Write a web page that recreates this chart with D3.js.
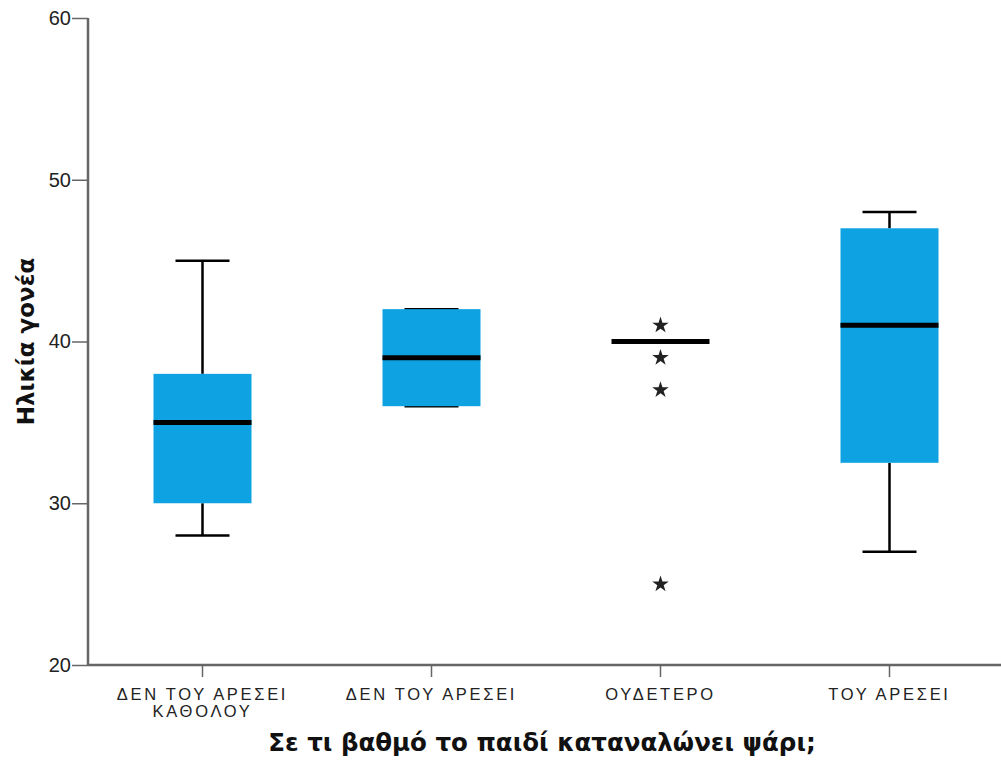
<!DOCTYPE html>
<html><head><meta charset="utf-8">
<script src="https://cdn.jsdelivr.net/npm/d3@7"></script>
<style>body{margin:0;background:#fff}svg{display:block}</style>
</head><body>
<script>
const categories = [["ΔΕΝ ΤΟΥ ΑΡΕΣΕΙ","ΚΑΘΟΛΟΥ"],["ΔΕΝ ΤΟΥ ΑΡΕΣΕΙ"],["ΟΥΔΕΤΕΡΟ"],["ΤΟΥ ΑΡΕΣΕΙ"]];
const whiskerLow  = [28, 36, 40, 27];
const q1          = [30, 36, 40, 32.5];
const median      = [35, 39, 40, 41];
const q3          = [38, 42, 40, 47];
const whiskerHigh = [45, 42, 40, 48];
const outliers    = [[], [], [41, 39, 37, 25], []];
const yTicks = [20, 30, 40, 50, 60];

(function(){
const W = 1001, H = 760;
const svg = d3.select("body").append("svg").attr("width", W).attr("height", H);
const mLeft = 88, mRight = 1004, mTop = 18, mBottom = 665;

const x = d3.scaleBand().domain(d3.range(categories.length)).range([mLeft, mRight]).padding(0);
const y = d3.scaleLinear().domain([20, 60]).range([mBottom, mTop]);
const bw = 98, capW = 54;
const cx = i => x(i) + x.bandwidth() / 2;

// axes
const yAxis = svg.append("g").attr("transform", `translate(${mLeft},0)`)
  .call(d3.axisLeft(y).tickValues(yTicks).tickSize(16).tickPadding(1).tickFormat(d3.format("d")));
yAxis.select(".domain").attr("stroke", "#666").attr("stroke-width", 2.5).attr("d", `M0,${mTop}V${mBottom}`);
yAxis.selectAll(".tick line").attr("stroke", "#666").attr("stroke-width", 1.5);
yAxis.selectAll(".tick text").attr("font-family", "Arial, Liberation Sans, sans-serif").attr("font-size", 20).attr("fill", "#222");

const xAxis = svg.append("g").attr("transform", `translate(0,${mBottom})`)
  .call(d3.axisBottom(x).tickSize(12).tickFormat(""));
xAxis.select(".domain").attr("stroke", "#666").attr("stroke-width", 2.5).attr("d", `M${mLeft},0H${W}`);
xAxis.selectAll(".tick line").attr("stroke", "#666").attr("stroke-width", 1.5);
xAxis.selectAll(".tick").each(function(d) {
  const t = d3.select(this).append("text").attr("fill", "#222")
    .attr("font-family", "Arial, Liberation Sans, sans-serif").attr("font-size", 16.5)
    .attr("letter-spacing", "2.7px").attr("text-anchor", "middle");
  categories[d].forEach((line, k) => {
    t.append("tspan").attr("x", 0).attr("y", 35 + k * 17).text(line);
  });
});

// boxes
const g = svg.append("g");
categories.forEach((c, i) => {
  const X = cx(i);
  if (whiskerHigh[i] > q3[i]) {
    g.append("line").attr("x1", X).attr("x2", X).attr("y1", y(q3[i])).attr("y2", y(whiskerHigh[i])).attr("stroke", "#000").attr("stroke-width", 2.5);
  }
  if (whiskerLow[i] < q1[i]) {
    g.append("line").attr("x1", X).attr("x2", X).attr("y1", y(q1[i])).attr("y2", y(whiskerLow[i])).attr("stroke", "#000").attr("stroke-width", 2.5);
  }
  if (whiskerHigh[i] !== whiskerLow[i]) {
    [whiskerLow[i], whiskerHigh[i]].forEach(v => {
      g.append("line").attr("x1", X - capW / 2).attr("x2", X + capW / 2).attr("y1", y(v)).attr("y2", y(v)).attr("stroke", "#000").attr("stroke-width", 2.5);
    });
  }
  if (q3[i] > q1[i]) {
    g.append("rect").attr("x", X - bw / 2).attr("width", bw).attr("y", y(q3[i])).attr("height", y(q1[i]) - y(q3[i])).attr("fill", "#0fa2e2");
  }
  g.append("line").attr("x1", X - bw / 2).attr("x2", X + bw / 2).attr("y1", y(median[i])).attr("y2", y(median[i])).attr("stroke", "#000").attr("stroke-width", 5);
  outliers[i].forEach(v => {
    g.append("path").attr("d", d3.symbol(d3.symbolStar, 85)()).attr("transform", `translate(${X},${y(v)})`).attr("fill", "#222");
  });
});

// labels
svg.append("text").attr("x", 542).attr("y", 751).attr("text-anchor", "middle")
  .attr("font-family", "DejaVu Sans, Verdana, sans-serif").attr("font-weight", "bold").attr("font-size", 24.5).attr("fill", "#111")
  .text("Σε τι βαθμό το παιδί καταναλώνει ψάρι;");
svg.append("text").attr("transform", `translate(34,${(mTop + mBottom) / 2}) rotate(-90)`).attr("text-anchor", "middle")
  .attr("font-family", "DejaVu Sans, Verdana, sans-serif").attr("font-weight", "bold").attr("font-size", 23).attr("fill", "#111")
  .text("Ηλικία γονέα");
})();
</script>
</body></html>
